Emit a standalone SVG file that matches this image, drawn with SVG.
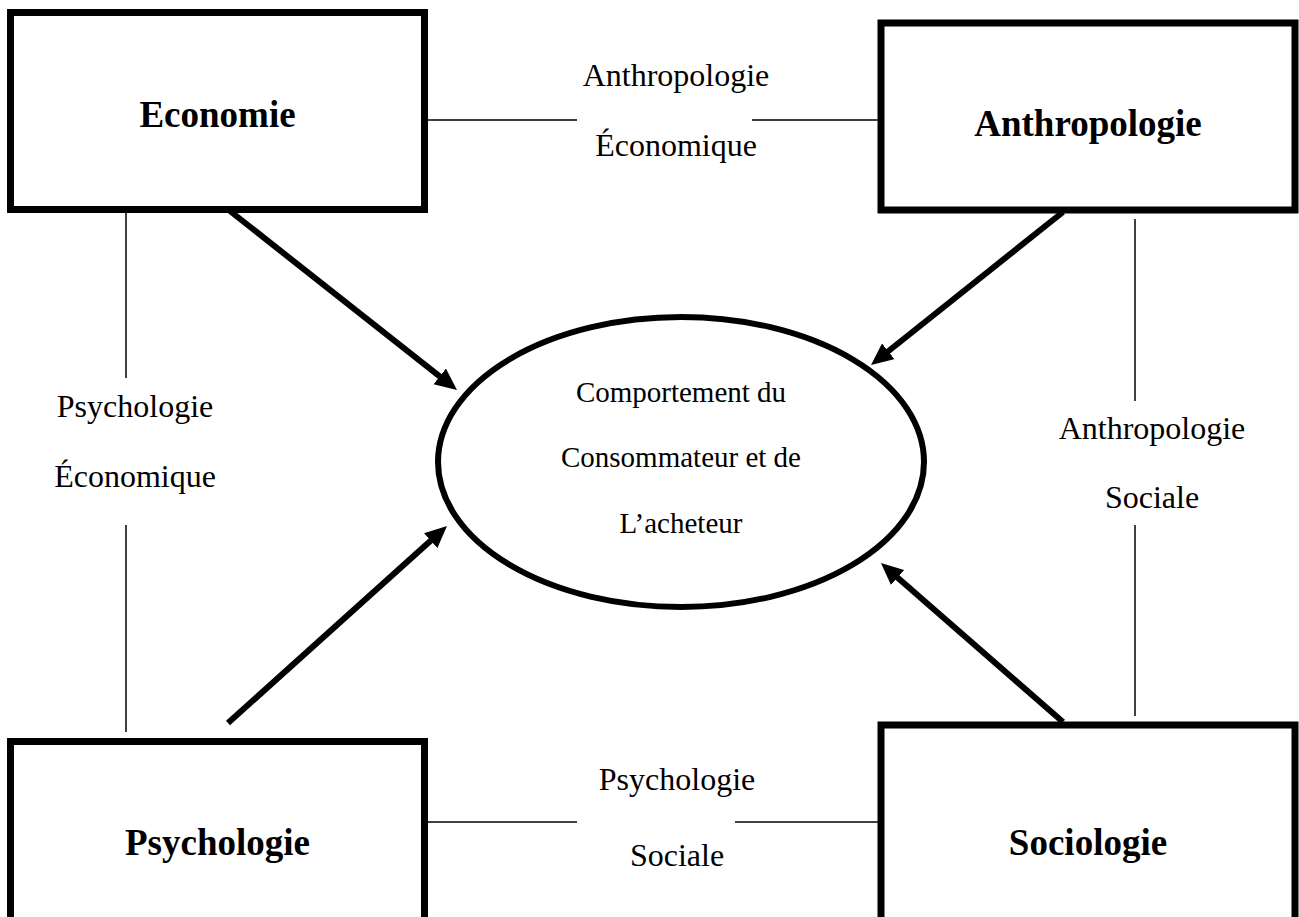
<svg xmlns="http://www.w3.org/2000/svg" width="1299" height="917" viewBox="0 0 1299 917">
<style>
.box{fill:#fff;stroke:#000;stroke-width:7}
.ell{fill:#fff;stroke:#000;stroke-width:6}
.thin{stroke:#000;stroke-width:1.5;fill:none}
.arr{stroke:#000;stroke-width:6;fill:none;marker-end:url(#ah)}
.bold{font-family:"Liberation Serif","Times New Roman",serif;font-weight:bold;font-size:37px;text-anchor:middle;fill:#000}
.lbl{font-family:"Liberation Serif","Times New Roman",serif;font-size:32px;text-anchor:middle;fill:#000}
.ctr{font-family:"Liberation Serif","Times New Roman",serif;font-size:29px;text-anchor:middle;fill:#000}
</style>
<defs>
<marker id="ah" markerUnits="userSpaceOnUse" markerWidth="24" markerHeight="22" refX="10" refY="10" orient="auto" viewBox="0 0 24 22">
<path d="M0,0 L22,10 L0,20 z" fill="#000"/>
</marker>
</defs>
<rect width="1299" height="917" fill="#fff"/>
<g id="connectors">
<line class="thin" x1="428" y1="120" x2="577" y2="120"/>
<line class="thin" x1="752" y1="120" x2="878" y2="120"/>
<line class="thin" x1="428" y1="822" x2="577" y2="822"/>
<line class="thin" x1="735" y1="822" x2="878" y2="822"/>
<line class="thin" x1="126" y1="212" x2="126" y2="378"/>
<line class="thin" x1="126" y1="525" x2="126" y2="732"/>
<line class="thin" x1="1135" y1="219" x2="1135" y2="401"/>
<line class="thin" x1="1135" y1="525" x2="1135" y2="716"/>
<line class="arr" x1="230" y1="211" x2="447.6" y2="382.6"/>
<line class="arr" x1="1063" y1="212" x2="880.4" y2="357.5"/>
<line class="arr" x1="228" y1="723" x2="438.1" y2="534.0"/>
<line class="arr" x1="1063" y1="722" x2="890.0" y2="570.9"/>
<text class="lbl" x="676" y="86">Anthropologie</text>
<text class="lbl" x="676" y="156">Économique</text>
<text class="lbl" x="135" y="417">Psychologie</text>
<text class="lbl" x="135" y="487">Économique</text>
<text class="lbl" x="1152" y="439">Anthropologie</text>
<text class="lbl" x="1152" y="508">Sociale</text>
<text class="lbl" x="677" y="790">Psychologie</text>
<text class="lbl" x="677" y="866">Sociale</text>
</g>
<g id="economie">
<rect class="box" x="10.5" y="12.5" width="414" height="197"/>
<text class="bold" x="217.5" y="127">Economie</text>
</g>
<g id="anthropologie">
<rect class="box" x="881" y="23" width="414" height="187"/>
<text class="bold" x="1088" y="136">Anthropologie</text>
</g>
<g id="psychologie">
<rect class="box" x="10.5" y="741.5" width="414" height="182"/>
<text class="bold" x="217.5" y="855">Psychologie</text>
</g>
<g id="sociologie">
<rect class="box" x="881" y="725" width="414" height="198"/>
<text class="bold" x="1088" y="855">Sociologie</text>
</g>
<g id="comportement">
<ellipse class="ell" cx="681" cy="462" rx="243" ry="145"/>
<text class="ctr" x="681" y="402">Comportement du</text>
<text class="ctr" x="681" y="467">Consommateur et de</text>
<text class="ctr" x="681" y="533">L’acheteur</text>
</g>
</svg>
